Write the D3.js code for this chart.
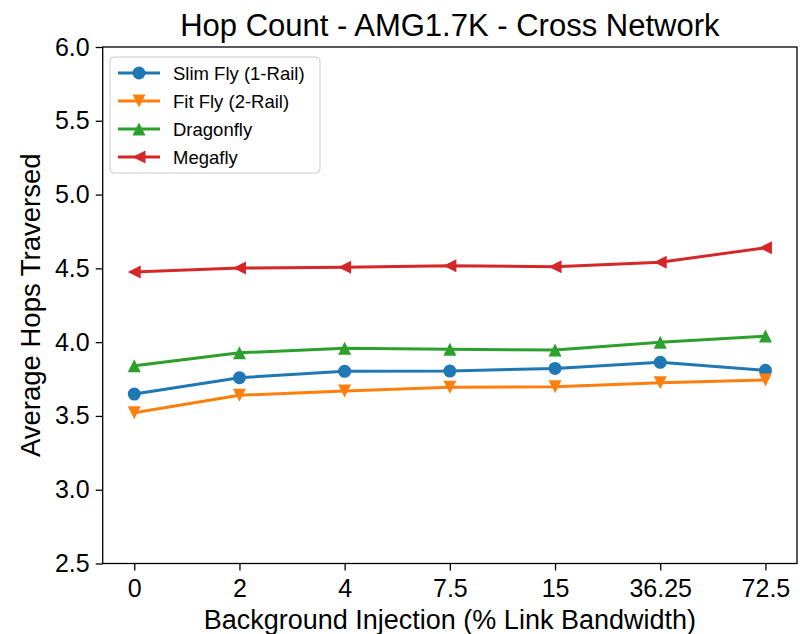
<!DOCTYPE html>
<html>
<head>
<meta charset="utf-8">
<script src="https://cdn.jsdelivr.net/npm/d3@7"></script>
<style>
  html, body { margin: 0; padding: 0; background: #fff; }
  svg { display: block; font-family: "Liberation Sans", Arial, sans-serif; }
</style>
</head>
<body>
<svg id="chart" width="800" height="634"></svg>
<script>
// Background injection levels (categorical x axis)
const categories = ["0", "2", "4", "7.5", "15", "36.25", "72.5"];

// Average hops traversed per topology
const slimFly   = [3.648, 3.759, 3.802, 3.804, 3.822, 3.863, 3.809];
const fitFly    = [3.522, 3.640, 3.669, 3.694, 3.698, 3.725, 3.743];
const dragonfly = [3.840, 3.928, 3.958, 3.951, 3.946, 3.999, 4.041];
const megafly   = [4.475, 4.502, 4.507, 4.518, 4.511, 4.541, 4.640];

const yTicks = [2.5, 3.0, 3.5, 4.0, 4.5, 5.0, 5.5, 6.0];

const seriesList = [
  { name: "Slim Fly (1-Rail)", values: slimFly,   color: "#1f77b4", marker: "circle" },
  { name: "Fit Fly (2-Rail)",  values: fitFly,    color: "#ff7f0e", marker: "down" },
  { name: "Dragonfly",         values: dragonfly, color: "#2ca02c", marker: "up" },
  { name: "Megafly",           values: megafly,   color: "#d62728", marker: "left" }
];

const svg = d3.select("#chart");
const plot = { left: 102.7, right: 797, top: 47, bottom: 563.5 };

const x = d3.scalePoint()
  .domain(categories)
  .range([plot.left, plot.right])
  .padding(0.3);

const y = d3.scaleLinear()
  .domain([2.5, 6.0])
  .range([plot.bottom, plot.top]);

// Marker path generator, centred at origin, size = full width
function markerPath(type, s) {
  const h = s / 2;
  if (type === "circle") return d3.symbol().type(d3.symbolCircle).size(Math.PI * h * h)();
  if (type === "down") return `M${-h},${-h}L${h},${-h}L0,${h}Z`;
  if (type === "up") return `M${-h},${h}L${h},${h}L0,${-h}Z`;
  if (type === "left") return `M${h},${-h}L${h},${h}L${-h},0Z`;
}

const markerSize = 13;
const line = d3.line().x((d, i) => x(categories[i])).y(d => y(d));

const g = svg.append("g");
seriesList.forEach(s => {
  g.append("path")
    .datum(s.values)
    .attr("d", line)
    .attr("fill", "none")
    .attr("stroke", s.color)
    .attr("stroke-width", 3)
    .attr("stroke-linejoin", "round")
    .attr("stroke-linecap", "square");
  g.selectAll(null)
    .data(s.values)
    .enter()
    .append("path")
    .attr("d", markerPath(s.marker, markerSize))
    .attr("transform", (d, i) => `translate(${x(categories[i])},${y(d)})`)
    .attr("fill", s.color);
});

// Axes
const xAxis = d3.axisBottom(x).tickSizeOuter(0).tickSize(7).tickPadding(9);
const yAxis = d3.axisLeft(y).tickValues(yTicks).tickFormat(d3.format(".1f")).tickSizeOuter(0).tickSize(7).tickPadding(6);

const gx = svg.append("g").attr("transform", `translate(0,${plot.bottom})`).call(xAxis);
const gy = svg.append("g").attr("transform", `translate(${plot.left},0)`).call(yAxis);
[gx, gy].forEach(a => {
  a.select(".domain").remove();
  a.selectAll(".tick line").attr("stroke", "#000").attr("stroke-width", 1.3);
  a.selectAll(".tick text").attr("fill", "#000").style("font-size", "25px")
    .style("font-family", "Liberation Sans, Arial, sans-serif");
});

// Frame
svg.append("rect")
  .attr("x", plot.left).attr("y", plot.top)
  .attr("width", plot.right - plot.left).attr("height", plot.bottom - plot.top)
  .attr("fill", "none").attr("stroke", "#000").attr("stroke-width", 1.3);

// Title and axis labels
svg.append("text")
  .attr("x", (plot.left + plot.right) / 2).attr("y", 36)
  .attr("text-anchor", "middle").style("font-size", "31px")
  .text("Hop Count - AMG1.7K - Cross Network");

svg.append("text")
  .attr("x", (plot.left + plot.right) / 2).attr("y", 629)
  .attr("text-anchor", "middle").style("font-size", "27px")
  .text("Background Injection (% Link Bandwidth)");

svg.append("text")
  .attr("transform", `translate(40,${(plot.top + plot.bottom) / 2}) rotate(-90)`)
  .attr("text-anchor", "middle").style("font-size", "27.5px")
  .text("Average Hops Traversed");

// Legend
const legend = svg.append("g").attr("transform", "translate(110,57)");
legend.append("rect")
  .attr("x", 0).attr("y", 0).attr("width", 210).attr("height", 116)
  .attr("rx", 4).attr("fill", "#fff").attr("fill-opacity", 0.8)
  .attr("stroke", "#cccccc").attr("stroke-width", 1);
seriesList.forEach((s, i) => {
  const ly = 16 + i * 28;
  legend.append("line")
    .attr("x1", 8).attr("x2", 50).attr("y1", ly).attr("y2", ly)
    .attr("stroke", s.color).attr("stroke-width", 3);
  legend.append("path")
    .attr("d", markerPath(s.marker, markerSize))
    .attr("transform", `translate(29,${ly})`)
    .attr("fill", s.color);
  legend.append("text")
    .attr("x", 63).attr("y", ly + 6.5)
    .style("font-size", "18.5px")
    .text(s.name);
});
</script>
</body>
</html>
